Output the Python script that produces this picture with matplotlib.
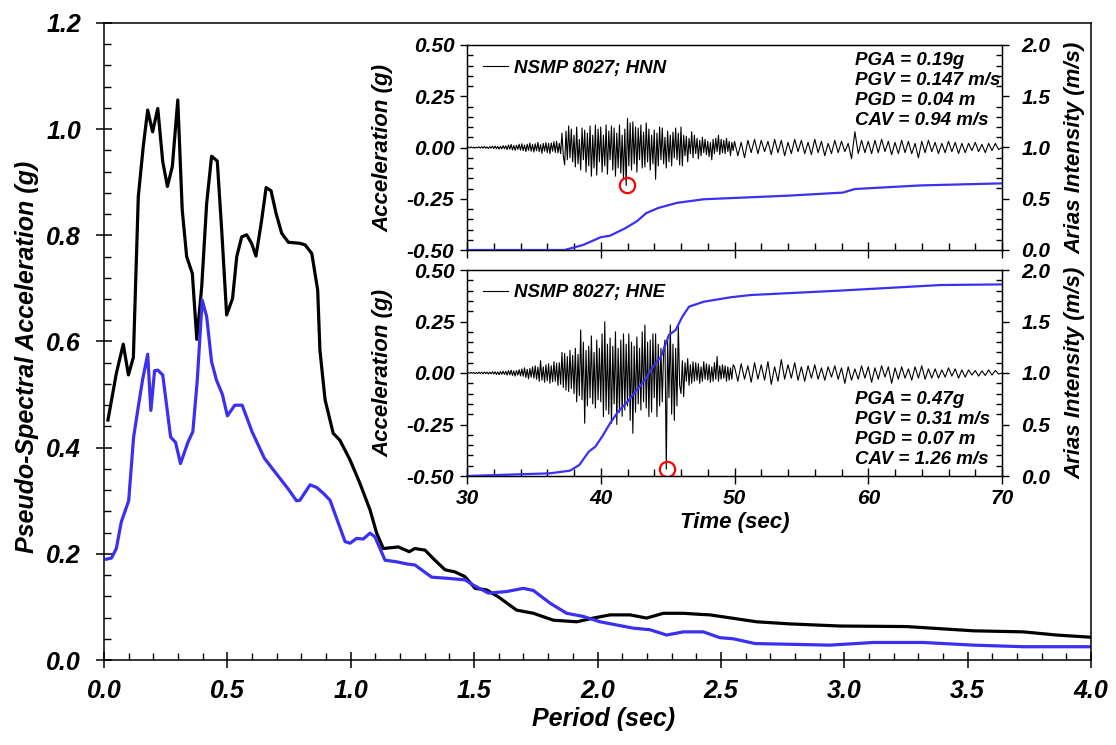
import numpy as np
import matplotlib
matplotlib.use("Agg")
import matplotlib.pyplot as plt
from matplotlib.ticker import MultipleLocator, FormatStrFormatter

# ---------------- data: response spectra ----------------
period_black = [0.016, 0.05, 0.078, 0.099, 0.119, 0.139, 0.159, 0.177, 0.197, 0.218, 0.238, 0.257,
                0.277, 0.299, 0.317, 0.335, 0.358, 0.376, 0.396, 0.416, 0.436, 0.459, 0.477, 0.497,
                0.521, 0.538, 0.558, 0.578, 0.598, 0.616, 0.639, 0.657, 0.677, 0.697, 0.720, 0.747,
                0.794, 0.815, 0.842, 0.866, 0.875, 0.896, 0.929, 0.956, 0.997, 1.037, 1.078, 1.105,
                1.132, 1.193, 1.237, 1.260, 1.301, 1.341, 1.382, 1.422, 1.463, 1.504, 1.551, 1.598,
                1.672, 1.740, 1.821, 1.916, 1.983, 2.051, 2.132, 2.199, 2.267, 2.348, 2.415, 2.456,
                2.645, 2.780, 2.983, 3.253, 3.523, 3.726, 3.861, 3.996]
psa_black = [0.452, 0.540, 0.595, 0.537, 0.570, 0.873, 0.967, 1.036, 0.995, 1.039, 0.939, 0.892,
             0.930, 1.055, 0.848, 0.760, 0.728, 0.604, 0.703, 0.860, 0.949, 0.940, 0.810, 0.650,
             0.681, 0.760, 0.797, 0.801, 0.785, 0.761, 0.829, 0.890, 0.884, 0.842, 0.804, 0.787,
             0.785, 0.782, 0.766, 0.697, 0.584, 0.490, 0.427, 0.414, 0.377, 0.333, 0.283, 0.239,
             0.210, 0.213, 0.204, 0.210, 0.207, 0.188, 0.170, 0.166, 0.157, 0.135, 0.132, 0.119,
             0.094, 0.088, 0.075, 0.072, 0.079, 0.085, 0.085, 0.079, 0.088, 0.088, 0.086, 0.085,
             0.072, 0.068, 0.064, 0.063, 0.055, 0.053, 0.047, 0.043]

period_blue = [0.01, 0.03, 0.05, 0.07, 0.10, 0.12, 0.14, 0.156, 0.177, 0.19, 0.205, 0.218, 0.238,
               0.27, 0.29, 0.31, 0.34, 0.36, 0.378, 0.398, 0.416, 0.436, 0.456, 0.48, 0.50, 0.53,
               0.56, 0.60, 0.65, 0.70, 0.75, 0.78, 0.794, 0.835, 0.862, 0.889, 0.916, 0.977, 0.997,
               1.024, 1.051, 1.078, 1.098, 1.139, 1.186, 1.226, 1.260, 1.328, 1.389, 1.463, 1.497,
               1.558, 1.632, 1.699, 1.740, 1.808, 1.875, 1.943, 2.010, 2.145, 2.213, 2.280, 2.348,
               2.429, 2.496, 2.550, 2.638, 2.942, 3.118, 3.320, 3.523, 3.726, 3.996]
psa_blue = [0.190, 0.192, 0.210, 0.260, 0.300, 0.420, 0.480, 0.527, 0.576, 0.470, 0.545, 0.546,
            0.537, 0.420, 0.410, 0.370, 0.410, 0.430, 0.527, 0.678, 0.647, 0.562, 0.527, 0.500,
            0.460, 0.480, 0.480, 0.430, 0.380, 0.350, 0.320, 0.300, 0.301, 0.330, 0.325, 0.314,
            0.301, 0.223, 0.220, 0.229, 0.228, 0.239, 0.232, 0.188, 0.185, 0.181, 0.179, 0.156,
            0.154, 0.151, 0.141, 0.126, 0.129, 0.135, 0.131, 0.107, 0.088, 0.082, 0.072, 0.060,
            0.057, 0.047, 0.053, 0.053, 0.042, 0.040, 0.031, 0.028, 0.033, 0.033, 0.028, 0.025,
            0.025]

# ---------------- data: time histories (acceleration in milli-g) ----------------
# 30-50 s sampled every 0.1 s, 50-70 s every 0.25 s
hnn_acc_mg_30_50 = [
    0, 2, -2, 3, -2, 2, -3, 2, -2, 3,
    -3, 4, -3, 5, -4, 3, -5, 4, -3, 6,
    -5, 7, -6, 5, -8, 6, -7, 9, -6, 8,
    -10, 12, -8, 15, -12, 10, -14, 11, -9, 16,
    -13, 18, -15, 12, -20, 16, -14, 22, -18, 15,
    -22, 18, -16, 25, -20, 14, -28, 20, -18, 24,
    -25, 20, -30, 22, -18, 28, -24, 30, -26, 20,
    -30, 70, -40, -85, 80, -60, 105, -50, 90, -70,
    60, -95, 100, -80, 40, -110, 95, -60, 85, -120,
    70, -90, 105, -140, 60, -100, 110, -135, 90, -70,
    100, -120, 60, -90, 110, -130, 80, -60, 105, -110,
    95, -140, 70, -100, 110, -125, 60, -150, 90, -185,
    142, -90, 120, -110, 125, -80, 100, -120, 95, -60,
    110, -100, 75, -95, 120, -70, 90, -110, 60, -80,
    85, -155, 70, -90, 100, -60, 95, -80, 50, -100,
    80, -70, 60, -90, 75, -50, 95, -60, 70, -85,
    100, -90, 60, -40, 55, -70, 45, -30, 77, -50,
    60, -30, 45, -55, 35, -40, 50, -25, 40, -35,
    30, -45, 25, -60, 40, -30, 45, -20, 60, -35,
    40, -25, 35, -30, 45, -20, 30, -40, 25, -15]
hnn_acc_mg_50_70 = [
    30, -40, 25, -50, 35, -25, 40, -30, 35, -20,
    30, -35, 40, -25, 35, -40, 25, -30, 40, -20,
    35, -30, 25, -35, 40, -25, 30, -40, 20, -30,
    35, -25, 30, -20, 20, -55, 77, -30, 35, -25,
    30, -30, 35, -25, 40, -20, 30, -35, 25, -30,
    35, -25, 30, -30, 20, -50, 30, -25, 35, -20,
    25, -30, 20, -25, 30, -20, 25, -30, 20, -25,
    20, -15, 25, -20, 15, -25, 20, -15, 20, -10]

hne_acc_mg_30_50 = [
    0, 2, -2, 3, -2, 3, -3, 2, -3, 4,
    -3, 4, -4, 5, -3, 4, -5, 4, -4, 6,
    -5, 6, -7, 5, -8, 7, -6, 9, -7, 8,
    -10, 12, -9, 14, -12, 10, -15, 12, -10, 16,
    -14, 20, -16, 25, -22, 18, -28, 22, -20, 30,
    -25, 35, -30, 28, -40, 60, -35, 30, -45, 40,
    -38, 45, -50, 35, -42, 55, -40, 48, -60, 50,
    -55, 100, -70, 95, -83, 80, -90, 110, -75, 85,
    -100, 120, -140, 90, -110, 209, -130, 150, -244, 110,
    -160, 130, -120, 180, -150, 100, -170, 160, -130, 120,
    -140, 190, -212, 249, -180, 140, -200, 170, -244, 130,
    -150, 200, -250, 120, -190, 160, -210, 190, -180, 140,
    -160, 190, -230, 150, -293, 130, -190, 175, -150, 120,
    -180, 200, -140, 233, -170, 150, -212, 160, -190, 190,
    -120, 190, -212, 140, -160, 120, -140, 100, 160, -467,
    160, -120, 233, -200, 140, -230, 120, -160, 233, -60,
    -100, 60, -115, 50, -40, 70, -60, 40, -50, 55,
    -40, 50, -35, 45, -50, 30, -40, 55, -30, 45,
    -35, 40, -45, 30, -40, 50, -30, 80, -40, 35,
    -30, 40, -25, 35, -40, 30, -35, 25, -30, 40]
hne_acc_mg_50_70 = [
    30, -40, 45, -30, 35, -45, 50, -30, 40, -35,
    55, -55, 30, -40, 65, -30, 40, -25, 50, -35,
    30, -40, 35, -25, 40, -30, 25, -35, 30, -20,
    35, -30, 25, -50, 30, -35, 20, -30, 35, -25,
    30, -45, 25, -30, 35, -20, 30, -50, 25, -30,
    30, -25, 20, -35, 30, -25, 35, -30, 20, -25,
    20, -25, 15, -20, 25, -15, 20, -25, 15, -20,
    15, -10, 12, -15, 10, -12, 15, -10, 12, -5]

# Arias intensity (m/s)
hnn_arias_t = [30, 37.3, 38.7, 40.0, 40.7, 41.8, 42.7, 43.4, 44.3, 45.7, 47.7, 50.4, 54.0,
               58.1, 59.0, 63.9, 70]
hnn_arias = [0, 0, 0.05, 0.125, 0.14, 0.21, 0.28, 0.36, 0.41, 0.46, 0.495, 0.51, 0.53,
             0.56, 0.595, 0.63, 0.65]
hne_arias_t = [30, 36.2, 37.7, 38.4, 39.1, 39.6, 40.1, 40.7, 41.3, 41.9, 42.5, 43.3, 43.9,
               44.5, 45.1, 45.6, 46.1, 46.6, 47.7, 49.7, 51.2, 57.9, 65.4, 70]
hne_arias = [0, 0.026, 0.052, 0.107, 0.236, 0.285, 0.382, 0.512, 0.625, 0.706, 0.803, 0.932,
             1.061, 1.158, 1.369, 1.417, 1.547, 1.644, 1.692, 1.735, 1.757, 1.8, 1.854, 1.86]

# PGA markers
hnn_pga_t, hnn_pga = 41.94, -0.185
hne_pga_t, hne_pga = 44.93, -0.467

hnn_label = "NSMP 8027; HNN"
hne_label = "NSMP 8027; HNE"
hnn_stats = ["PGA = 0.19g", "PGV = 0.147 m/s", "PGD = 0.04 m", "CAV = 0.94 m/s"]
hne_stats = ["PGA = 0.47g", "PGV = 0.31 m/s", "PGD = 0.07 m", "CAV = 1.26 m/s"]

# ---------------- styling ----------------
FONT = "Liberation Sans"
BLUE = "#3b30f2"
plt.rcParams["font.family"] = [FONT, "DejaVu Sans"]
plt.rcParams["font.weight"] = "bold"
plt.rcParams["font.style"] = "italic"

fig = plt.figure(figsize=(11.16, 7.45), dpi=100)

# main axes
ax = fig.add_axes([104 / 1116, 1 - 660 / 745, 987 / 1116, 637 / 745])
ax.plot(period_black, psa_black, color="black", lw=2.3, solid_joinstyle="round")
ax.plot(period_blue, psa_blue, color=BLUE, lw=2.3, solid_joinstyle="round")
ax.set_xlim(0, 4.0)
ax.set_ylim(0, 1.2)
ax.xaxis.set_major_locator(MultipleLocator(0.5))
ax.xaxis.set_minor_locator(MultipleLocator(0.1))
ax.yaxis.set_major_locator(MultipleLocator(0.2))
ax.yaxis.set_minor_locator(MultipleLocator(0.04))
ax.xaxis.set_major_formatter(FormatStrFormatter("%.1f"))
ax.yaxis.set_major_formatter(FormatStrFormatter("%.1f"))
ax.tick_params(which="major", direction="inout", length=11, width=1.1, labelsize=18)
ax.tick_params(axis="x", which="major", pad=8)
ax.tick_params(axis="y", which="major", pad=11)
ax.tick_params(which="minor", direction="in", length=5, width=1.0)
for s in ax.spines.values():
    s.set_linewidth(1.1)
ax.set_xlabel("Period (sec)", fontsize=18, fontweight="bold", fontstyle="italic")
ax.set_ylabel("Pseudo-Spectral Acceleration (g)", fontsize=18, fontweight="bold", fontstyle="italic")
ax.xaxis.set_label_coords(0.506, -0.073)
ax.yaxis.set_label_coords(-0.066, 0.476)


def time_axis(n_samples_a, n_samples_b):
    ta = 30 + 0.1 * np.arange(n_samples_a)
    tb = 50 + 0.25 * np.arange(n_samples_b)
    return np.concatenate([ta, tb, [70.0]])


def make_panel(rect, acc_a, acc_b, arias_t, arias, pga_t, pga, label, stats, bottom):
    a = fig.add_axes(rect)
    a.set_zorder(3)
    a.patch.set_facecolor("white")
    t = time_axis(len(acc_a), len(acc_b))
    acc = np.array(list(acc_a) + list(acc_b) + [0]) / 1000.0
    a.plot(t, acc, color="black", lw=0.8, label=label, zorder=3)
    a.plot([pga_t], [pga], marker="o", ms=11, mfc="none", mec="red", mew=1.6, ls="none", zorder=4)
    a.set_xlim(30, 70)
    a.set_ylim(-0.5, 0.5)
    a.xaxis.set_major_locator(MultipleLocator(10))
    a.xaxis.set_minor_locator(MultipleLocator(2))
    a.yaxis.set_major_locator(MultipleLocator(0.25))
    a.yaxis.set_minor_locator(MultipleLocator(0.05))
    a.yaxis.set_major_formatter(FormatStrFormatter("%.2f"))
    a.tick_params(axis="x", which="major", direction="inout", length=11, width=1.0,
                  labelsize=15, pad=4, labelbottom=bottom)
    a.tick_params(axis="x", which="minor", direction="in", length=5, width=1.0)
    a.tick_params(axis="y", which="major", direction="out", length=5, width=1.0,
                  labelsize=15, pad=4)
    a.tick_params(axis="y", which="minor", direction="in", length=4, width=1.0)
    for s in a.spines.values():
        s.set_linewidth(1.0)
    a.set_ylabel("Acceleration (g)", fontsize=16, fontweight="bold", fontstyle="italic")
    a.yaxis.set_label_coords(-0.138, 0.5)
    leg = a.legend(loc="center left", bbox_to_anchor=(0.03, 0.886 if not bottom else 0.89),
                   frameon=False, fontsize=13.5, handlelength=1.35, handletextpad=0.3,
                   borderpad=0, borderaxespad=0)
    for txt in leg.get_texts():
        txt.set_fontweight("bold")
        txt.set_fontstyle("italic")
    if bottom:
        a.set_xlabel("Time (sec)", fontsize=16, fontweight="bold", fontstyle="italic")
        a.xaxis.set_label_coords(0.5, -0.175)
        a.text(0.725, 0.04, "\n".join(stats), transform=a.transAxes, ha="left", va="bottom",
               fontsize=13.5, fontweight="bold", fontstyle="italic", linespacing=1.22, zorder=5)
    else:
        a.text(0.725, 0.965, "\n".join(stats), transform=a.transAxes, ha="left", va="top",
               fontsize=13.5, fontweight="bold", fontstyle="italic", linespacing=1.22, zorder=5)

    r = a.twinx()
    r.set_zorder(3)
    r.plot(arias_t, arias, color=BLUE, lw=1.6, zorder=2)
    r.set_ylim(0, 2.0)
    r.yaxis.set_major_locator(MultipleLocator(0.5))
    r.yaxis.set_minor_locator(MultipleLocator(0.1))
    r.yaxis.set_major_formatter(FormatStrFormatter("%.1f"))
    r.tick_params(axis="y", which="major", direction="out", length=5, width=1.0,
                  labelsize=15, pad=9)
    r.tick_params(axis="y", which="minor", direction="in", length=4, width=1.0)
    r.set_ylabel("Arias Intensity (m/s)", fontsize=16, fontweight="bold", fontstyle="italic")
    r.yaxis.set_label_coords(1.117, 0.5)
    return a, r


make_panel([467 / 1116, 1 - 250 / 745, 535 / 1116, 205 / 745],
           hnn_acc_mg_30_50, hnn_acc_mg_50_70, hnn_arias_t, hnn_arias,
           hnn_pga_t, hnn_pga, hnn_label, hnn_stats, bottom=False)
make_panel([467 / 1116, 1 - 476 / 745, 535 / 1116, 206 / 745],
           hne_acc_mg_30_50, hne_acc_mg_50_70, hne_arias_t, hne_arias,
           hne_pga_t, hne_pga, hne_label, hne_stats, bottom=True)

fig.savefig("out.png", dpi=100)
